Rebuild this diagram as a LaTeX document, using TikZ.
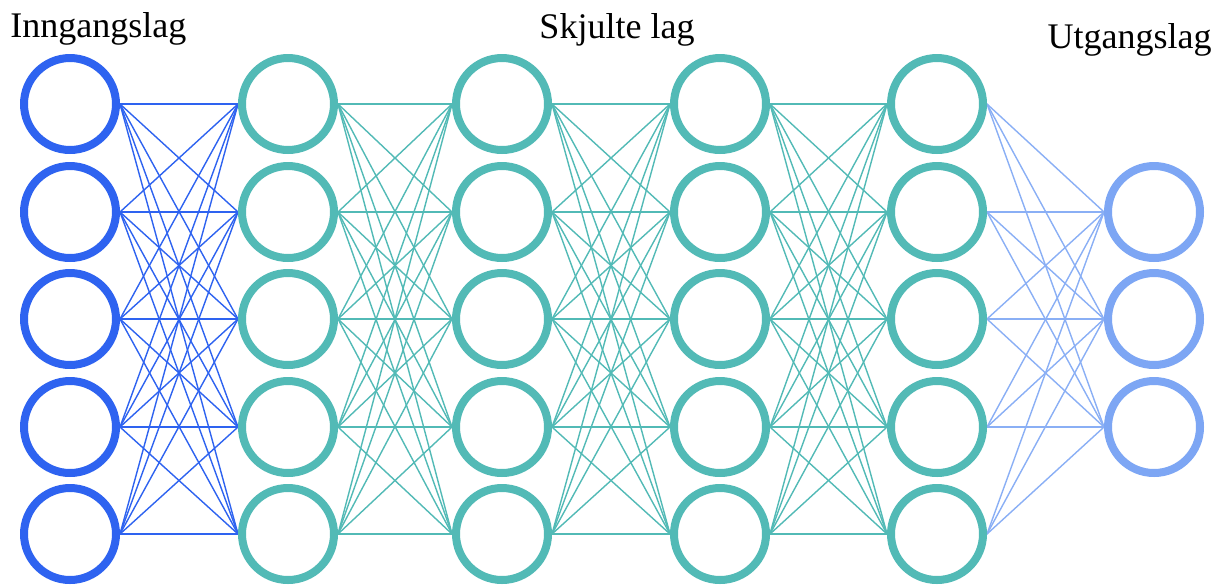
\documentclass[tikz,border=0pt]{standalone}
\usepackage{fontspec}
\setmainfont{Liberation Serif}
\usetikzlibrary{positioning,backgrounds}
\definecolor{inblue}{RGB}{46,99,240}
\definecolor{hidteal}{RGB}{82,186,182}
\definecolor{outblue}{RGB}{125,166,244}

\begin{document}
\begin{tikzpicture}[
    x=0.02cm, y=-0.02cm,
    neuron/.style={draw, circle, line width=0.16cm, minimum size=1.84cm, inner sep=0pt, fill=white},
    inneuron/.style={neuron, draw=inblue},
    hidneuron/.style={neuron, draw=hidteal},
    outneuron/.style={neuron, draw=outblue},
    edge/.style={draw, line width=0.8pt},
    inedge/.style={edge, inblue},
    hidedge/.style={edge, hidteal},
    outedge/.style={edge, outblue!90},
    layertext/.style={inner sep=0pt, font=\fontsize{20.5}{24}\selectfont}
]
    \useasboundingbox (0,0) rectangle (1222,586);

    % Nodes
    \foreach \i/\y in {1/104,2/212,3/319,4/427,5/534} {
        \node[inneuron] (in\i) at (70,\y) {};
        \foreach \l/\x in {1/288,2/502,3/720,4/937}
            \node[hidneuron] (h\l\i) at (\x,\y) {};
    }
    \foreach \j/\y in {1/212,2/319,3/427}
        \node[outneuron] (out\j) at (1154,\y) {};

    % Layer titles
    \node[layertext, anchor=base west] (intitle) at (10,37) {Inngangslag};
    \node[layertext, anchor=base] (hidtitle) at (617,38) {Skjulte lag};
    \node[layertext, anchor=base east] (outtitle) at (1212,48) {Utgangslag};

    % Connections
    \begin{scope}[on background layer]
        \foreach \i in {1,...,5}
            \foreach \j in {1,...,5}
                \draw[inedge] (in\i.east) -- (h1\j.west);
        \foreach \l/\m in {1/2,2/3,3/4}
            \foreach \i in {1,...,5}
                \foreach \j in {1,...,5}
                    \draw[hidedge] (h\l\i.east) -- (h\m\j.west);
        \foreach \i in {1,...,5}
            \foreach \j in {1,2,3}
                \draw[outedge] (h4\i.east) -- (out\j.west);
    \end{scope}
\end{tikzpicture}
\end{document}
